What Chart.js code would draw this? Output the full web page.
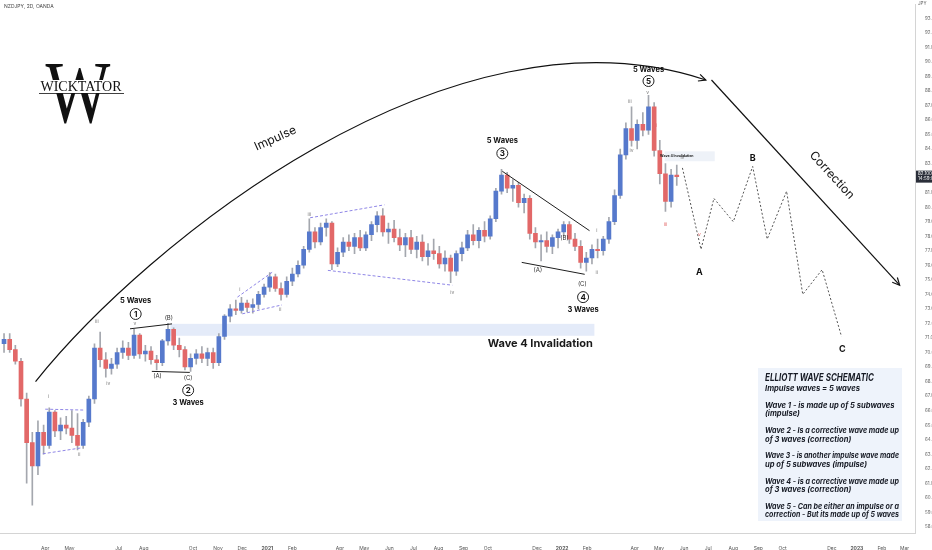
<!DOCTYPE html>
<html>
<head>
<meta charset="utf-8">
<script src="https://cdn.jsdelivr.net/npm/chart.js@4/dist/chart.umd.min.js"></script>
<style>
  html, body { margin: 0; padding: 0; background: #fff; }
</style>
</head>
<body>
<canvas id="chart" width="932" height="550"></canvas>
<script>
// NZDJPY weekly candles
const firstWeek = '2020-02-10';
const opens = [70.6,70.9,70.2,69.4,66.8,63.8,62.2,64.5,63.6,65.9,
  64.6,65.0,64.8,64.3,63.6,65.2,66.8,70.3,69.5,68.9,
  69.2,70.0,70.3,69.8,71.2,69.9,70.1,69.5,69.3,70.8,
  71.6,70.5,70.2,69.0,69.6,69.9,69.6,70.0,69.3,71.1,
  72.5,73.0,72.9,73.4,73.1,73.3,74.0,74.5,75.2,74.4,
  74.0,74.9,75.4,76.0,77.1,78.3,77.6,78.6,78.9,76.1,
  76.9,77.6,77.3,77.9,77.2,78.1,78.8,79.4,78.3,78.5,
  77.9,77.4,77.9,77.1,77.6,76.6,77.0,76.8,76.1,76.5,
  75.6,76.8,77.2,78.1,77.7,78.4,78.0,79.2,81.1,82.2,
  81.3,81.5,80.3,80.6,78.2,77.6,77.7,77.3,77.9,78.3,
  78.8,77.8,77.3,76.2,76.5,77.1,77.0,77.8,79.0,80.8,
  83.6,85.4,84.6,85.7,85.3,86.9,83.9,82.3,80.4,82.2];
const highs = [71.3,71.3,70.5,69.6,67.2,64.5,65.3,65.0,66.2,66.0,
  65.5,65.6,66.0,65.8,65.4,67.0,70.6,71.4,70.0,69.6,
  70.3,70.8,70.7,71.6,71.3,70.5,70.4,69.8,70.9,72.0,
  71.7,71.0,70.4,69.9,70.2,70.4,70.3,70.3,71.3,72.6,
  73.3,73.6,73.8,73.6,73.7,74.2,74.7,75.5,75.4,74.8,
  75.2,75.8,76.3,77.3,79.2,78.6,78.9,79.2,79.0,77.2,
  77.9,78.1,78.2,78.4,78.3,79.0,79.7,79.9,78.9,79.1,
  78.5,78.2,78.4,78.0,78.1,77.5,77.8,77.3,77.0,76.7,
  77.0,77.6,78.4,78.8,78.6,79.0,79.4,81.3,82.6,82.4,
  81.9,81.7,80.9,80.8,78.6,78.1,78.3,78.1,78.5,79.0,
  79.0,78.2,77.7,76.9,77.4,77.8,78.0,79.3,81.2,84.0,
  85.8,86.9,86.0,86.5,87.7,87.2,84.6,83.0,82.6,82.9];
const lows = [70.0,70.0,69.2,66.3,61.0,59.5,61.6,63.0,63.4,64.2,
  64.0,64.4,63.8,63.3,63.4,64.9,66.5,69.0,68.3,68.5,
  68.9,69.6,69.5,69.6,69.6,69.4,69.2,68.8,69.1,70.5,
  70.2,69.7,68.8,68.7,69.2,69.3,69.1,68.9,69.1,70.9,
  72.1,72.6,72.7,72.8,72.7,73.0,73.8,74.2,74.2,73.6,
  73.8,74.6,75.2,75.8,76.9,77.2,77.4,78.0,75.7,75.9,
  76.6,77.0,76.8,77.0,77.0,77.7,78.3,78.0,77.5,77.6,
  77.0,76.6,76.8,76.5,76.3,76.0,76.4,75.8,75.6,74.8,
  75.3,76.3,77.0,77.4,77.2,77.6,77.8,79.0,80.9,81.0,
  80.4,80.0,79.6,77.8,77.2,76.3,76.9,76.8,77.2,78.0,
  77.5,77.0,75.8,75.6,76.1,76.5,76.7,77.5,78.8,80.6,
  83.3,84.2,84.0,84.9,85.0,83.5,81.6,79.7,80.0,81.5];
const closes = [70.9,70.2,69.4,66.8,63.8,62.2,64.5,63.6,65.9,64.6,
  65.0,64.8,64.3,63.6,65.2,66.8,70.3,69.5,68.9,69.2,
  70.0,70.3,69.8,71.2,69.9,70.1,69.5,69.3,70.8,71.6,
  70.5,70.2,69.0,69.6,69.9,69.6,70.0,69.3,71.1,72.5,
  73.0,72.9,73.4,73.1,73.3,74.0,74.5,75.2,74.4,74.0,
  74.9,75.4,76.0,77.1,78.3,77.6,78.6,78.9,76.1,76.9,
  77.6,77.3,77.9,77.2,78.1,78.8,79.4,78.3,78.5,77.9,
  77.4,77.9,77.1,77.6,76.6,77.0,76.8,76.1,76.5,75.6,
  76.8,77.2,78.1,77.7,78.4,78.0,79.2,81.1,82.2,81.3,
  81.5,80.3,80.6,78.2,77.6,77.7,77.3,77.9,78.3,78.8,
  77.8,77.3,76.2,76.5,77.1,77.0,77.8,79.0,80.8,83.6,
  85.4,84.6,85.7,85.3,86.9,83.9,82.3,80.4,82.2,82.1];

// projected A-B-C correction path
const projDates = ['2022-05-30','2022-06-22','2022-07-08','2022-08-01','2022-08-25','2022-09-12','2022-10-06','2022-10-26','2022-11-19','2022-12-13'];
const projPrices = [82.7, 77.1, 80.6, 79.0, 82.8, 77.8, 81.1, 74.0, 75.7, 71.1];

// time axis labels
const tickDates = ['2020-04-01','2020-05-01','2020-07-01','2020-08-01','2020-10-01','2020-11-01','2020-12-01','2021-01-01','2021-02-01','2021-04-01','2021-05-01','2021-06-01','2021-07-01','2021-08-01','2021-09-01','2021-10-01','2021-12-01','2022-01-01','2022-02-01','2022-04-01','2022-05-01','2022-06-01','2022-07-01','2022-08-01','2022-09-01','2022-10-01','2022-12-01','2023-01-01','2023-02-01','2023-03-01'];
const tickLabels = ['Apr','May','Jul','Aug','Oct','Nov','Dec','2021','Feb','Apr','May','Jun','Jul','Aug','Sep','Oct','Dec','2022','Feb','Apr','May','Jun','Jul','Aug','Sep','Oct','Dec','2023','Feb','Mar'];

const DAY = 864e5;
const t = s => Date.parse(s + 'T00:00:00Z');
const weekDates = opens.map((_, i) => t(firstWeek) + i * 7 * DAY);

const UP = '#5679cc', DOWN = '#e26868', WICK = '#a4a7ae';

// annotation layout (date, price)
const waveCircles = [
  { n: '1', d: '2020-07-22', p: 72.65, cap: '5 Waves', dy: -13 },
  { n: '2', d: '2020-09-25', p: 67.4, cap: '3 Waves', dy: 12 },
  { n: '3', d: '2021-10-19', p: 83.7, cap: '5 Waves', dy: -13 },
  { n: '4', d: '2022-01-27', p: 73.81, cap: '3 Waves', dy: 13 },
  { n: '5', d: '2022-04-18', p: 88.68, cap: '5 Waves', dy: -11 }
];
const romans = [
  ['i','2020-04-05',67.0], ['ii','2020-05-13',62.97], ['iii','2020-06-04',72.11], ['iv','2020-06-18',67.88], ['v','2020-07-21',71.97],
  ['i','2020-11-28',74.36], ['ii','2021-01-17',72.93], ['iii','2021-02-22',79.47], ['iv','2021-08-18',74.15],
  ['i','2022-02-13',78.38], ['ii','2022-02-13',75.52], ['iii','2022-03-26',87.25], ['iv','2022-03-28',83.91], ['v','2022-04-17',87.86],
  ['iv','2022-05-30',83.4]
];
const redRomans = [['i','2022-04-28',85.61], ['iii','2022-05-09',78.79], ['v','2022-06-20',78.11]];
const abcSmall = [
  ['(A)','2020-08-18',68.35], ['(B)','2020-09-01',72.38], ['(C)','2020-09-25',68.22],
  ['(A)','2021-12-02',75.65], ['(B)','2022-01-04',77.84], ['(C)','2022-01-26',74.7]
];
const abcBig = [['A','2022-06-20',75.52], ['B','2022-08-25',83.36], ['C','2022-12-14',70.2]];
const trendLines = [
  ['2020-07-15',71.63,'2020-09-05',71.97], ['2020-08-11',68.7,'2020-09-27',68.63],
  ['2021-10-19',82.47,'2022-02-04',78.38], ['2021-11-12',76.2,'2022-01-29',75.38]
];
const wedgeLines = [
  ['2020-04-01',66.1,'2020-05-18',66.04], ['2020-03-29',63.03,'2020-05-16',63.44],
  ['2020-11-25',73.81,'2021-01-07',75.52], ['2020-12-01',72.66,'2021-01-19',73.27],
  ['2021-02-23',79.27,'2021-05-26',80.16], ['2021-03-17',75.65,'2021-08-18',74.63]
];
const impulseArc = [['2020-03-20',68.0], ['2020-08-02',77.36], ['2021-08-15',94.62], ['2022-06-28',88.75]];
const correctionArrow = [['2022-07-05',88.75], ['2023-02-23',74.63]];
const schematic = ['Impulse waves = 5 waves', '',
  'Wave 1 - is made up of 5 subwaves', '(impulse)', '',
  'Wave 2 - Is a corrective wave made up', 'of 3 waves (correction)', '',
  'Wave 3 - is another impulse wave made', 'up of 5 subwaves (impulse)', '',
  'Wave 4 - is a corrective wave made up', 'of 3 waves (correction)', '',
  'Wave 5 - Can be either an impulse or a', 'correction - But its made up of 5 waves'];

function arrowHead(ctx, x1, y1, x2, y2) {
  const a = Math.atan2(y2 - y1, x2 - x1), L = 8;
  ctx.beginPath();
  ctx.moveTo(x2 - L * Math.cos(a - 0.45), y2 - L * Math.sin(a - 0.45));
  ctx.lineTo(x2, y2);
  ctx.lineTo(x2 - L * Math.cos(a + 0.45), y2 - L * Math.sin(a + 0.45));
  ctx.stroke();
}

const notes = {
  id: 'notes',
  beforeDatasetsDraw(chart) {
    const { ctx, scales: { x, y } } = chart;
    const X = d => x.getPixelForValue(t(d)), Y = p => y.getPixelForValue(p);
    ctx.save();
    ctx.fillStyle = '#e4ebf9';
    ctx.fillRect(X('2020-09-03'), Y(71.97), X('2022-02-10') - X('2020-09-03'), Y(71.15) - Y(71.97));
    ctx.fillStyle = '#eef2f8';
    ctx.fillRect(X('2022-05-08'), Y(83.84), X('2022-07-09') - X('2022-05-08'), Y(83.16) - Y(83.84));
    ctx.restore();
  },
  afterDatasetsDraw(chart) {
    const { ctx, scales: { x, y } } = chart;
    const X = d => x.getPixelForValue(t(d)), Y = p => y.getPixelForValue(p);
    ctx.save();
    ctx.textAlign = 'center';
    ctx.textBaseline = 'middle';

    // trend lines
    ctx.strokeStyle = '#1e1e1e';
    ctx.lineWidth = 1;
    trendLines.forEach(([d1, p1, d2, p2]) => {
      ctx.beginPath(); ctx.moveTo(X(d1), Y(p1)); ctx.lineTo(X(d2), Y(p2)); ctx.stroke();
    });
    // dashed wedges
    ctx.strokeStyle = '#8f86e6';
    ctx.setLineDash([3, 2]);
    wedgeLines.forEach(([d1, p1, d2, p2]) => {
      ctx.beginPath(); ctx.moveTo(X(d1), Y(p1)); ctx.lineTo(X(d2), Y(p2)); ctx.stroke();
    });
    ctx.setLineDash([]);

    // impulse arc
    const pts = impulseArc.map(([d, p]) => [X(d), Y(p)]);
    ctx.strokeStyle = '#111';
    ctx.lineWidth = 1.2;
    ctx.beginPath();
    ctx.moveTo(pts[0][0], pts[0][1]);
    ctx.bezierCurveTo(pts[1][0], pts[1][1], pts[2][0], pts[2][1], pts[3][0], pts[3][1]);
    ctx.stroke();
    arrowHead(ctx, pts[2][0], pts[2][1], pts[3][0], pts[3][1]);
    ctx.save();
    ctx.translate(X('2021-01-11'), Y(84.73));
    ctx.rotate(-0.42);
    ctx.fillStyle = '#111';
    ctx.font = '12px Inter, sans-serif';
    ctx.fillText('Impulse', 0, 0);
    ctx.restore();

    // correction arrow
    const c1 = correctionArrow.map(([d, p]) => [X(d), Y(p)]);
    ctx.beginPath(); ctx.moveTo(c1[0][0], c1[0][1]); ctx.lineTo(c1[1][0], c1[1][1]); ctx.stroke();
    arrowHead(ctx, c1[0][0], c1[0][1], c1[1][0], c1[1][1]);
    ctx.save();
    ctx.translate(X('2022-12-01'), Y(82.2));
    ctx.rotate(Math.atan2(c1[1][1] - c1[0][1], c1[1][0] - c1[0][0]));
    ctx.fillStyle = '#111';
    ctx.font = '12px Inter, sans-serif';
    ctx.fillText('Correction', 0, 0);
    ctx.restore();

    // roman numerals
    ctx.font = '5px Inter, sans-serif';
    ctx.fillStyle = '#7a7a7a';
    romans.forEach(([s, d, p]) => ctx.fillText(s, X(d), Y(p)));
    ctx.fillStyle = '#e26868';
    redRomans.forEach(([s, d, p]) => ctx.fillText(s, X(d), Y(p)));
    ctx.fillStyle = '#333';
    ctx.font = '6px Inter, sans-serif';
    abcSmall.forEach(([s, d, p]) => ctx.fillText(s, X(d), Y(p)));
    ctx.font = 'bold 9px Inter, sans-serif';
    ctx.fillStyle = '#111';
    abcBig.forEach(([s, d, p]) => ctx.fillText(s, X(d), Y(p)));

    // wave circles
    waveCircles.forEach(w => {
      const cx = X(w.d), cy = Y(w.p);
      ctx.beginPath();
      ctx.arc(cx, cy, 5.5, 0, Math.PI * 2);
      ctx.fillStyle = '#fff'; ctx.fill();
      ctx.strokeStyle = '#222'; ctx.lineWidth = 1; ctx.stroke();
      ctx.fillStyle = '#111';
      ctx.font = 'bold 8px Inter, sans-serif';
      ctx.fillText(w.n, cx, cy + 0.5);
      ctx.font = 'bold 7.5px Inter, sans-serif';
      ctx.fillText(w.cap, cx, cy + w.dy);
    });

    // invalidation labels
    ctx.font = 'bold 11px Inter, sans-serif';
    ctx.fillStyle = '#1a1a1a';
    ctx.fillText('Wave 4 Invalidation', X('2021-12-05'), Y(70.6));
    ctx.font = 'bold 3.5px Inter, sans-serif';
    ctx.fillText('Wave 4 Invalidation', X('2022-05-23'), Y(83.5));

    // schematic box
    ctx.fillStyle = '#eef3fb';
    ctx.fillRect(758, 368, 144, 153);
    ctx.textAlign = 'left';
    ctx.fillStyle = '#161a24';
    ctx.font = 'italic bold 10.5px Inter, sans-serif';
    ctx.fillText('ELLIOTT WAVE SCHEMATIC', 765, 378, 109);
    ctx.font = 'italic bold 7.6px Inter, sans-serif';
    schematic.forEach((s, i) => { if (s) ctx.fillText(s, 765, 389 + i * 8.4, 134); });

    // header
    ctx.font = '5px Inter, sans-serif';
    ctx.fillStyle = '#444';
    ctx.fillText('NZDJPY, 2D, OANDA', 4, 6);

    // logo
    ctx.save();
    ctx.translate(78, 122);
    ctx.scale(0.78, 1);
    ctx.textAlign = 'center';
    ctx.textBaseline = 'alphabetic';
    ctx.fillStyle = '#111';
    ctx.font = '88px "Liberation Serif", serif';
    ctx.fillText('W', 0, 0);
    ctx.restore();
    ctx.fillStyle = '#fff';
    ctx.fillRect(38, 80, 88, 13);
    ctx.fillStyle = '#111';
    ctx.textAlign = 'center';
    ctx.font = '14px "Liberation Serif", serif';
    ctx.fillText('WICKTATOR', 81, 87, 84);
    ctx.fillRect(39, 93, 85, 0.8);
    ctx.restore();
  },
  afterDraw(chart) {
    const { ctx, scales: { y } } = chart;
    const last = closes[closes.length - 1];
    const py = y.getPixelForValue(last);
    ctx.save();
    ctx.fillStyle = '#2a2e39';
    ctx.fillRect(916, py - 6, 16, 12);
    ctx.fillStyle = '#fff';
    ctx.font = '4.5px Inter, sans-serif';
    ctx.textAlign = 'left';
    ctx.textBaseline = 'middle';
    ctx.fillText(last.toFixed(3), 918, py - 2.5);
    ctx.fillText('14:59:01', 918, py + 2.5);
    ctx.fillStyle = '#666';
    ctx.fillText('JPY', 918, 4);
    ctx.restore();
  }
};

new Chart(document.getElementById('chart').getContext('2d'), {
  type: 'bar',
  data: {
    datasets: [
      {
        label: 'wick',
        data: weekDates.map((x, i) => ({ x, y: [lows[i], highs[i]] })),
        backgroundColor: WICK,
        barThickness: 1,
        grouped: false,
        order: 2
      },
      {
        label: 'body',
        data: weekDates.map((x, i) => ({ x, y: [opens[i], closes[i]] })),
        backgroundColor: closes.map((c, i) => c >= opens[i] ? UP : DOWN),
        barThickness: 4,
        minBarLength: 1,
        grouped: false,
        order: 1
      },
      {
        type: 'line',
        label: 'projection',
        data: projDates.map((d, i) => ({ x: t(d), y: projPrices[i] })),
        borderColor: '#555',
        borderWidth: 1,
        borderDash: [2, 2],
        pointRadius: 0,
        order: 0
      }
    ]
  },
  options: {
    responsive: false,
    animation: false,
    layout: { padding: 0 },
    plugins: { legend: { display: false }, tooltip: { enabled: false } },
    scales: {
      x: {
        type: 'linear',
        min: t('2020-02-05'),
        max: t('2023-03-14'),
        offset: false,
        grid: { display: false },
        border: { color: '#d4d4d4' },
        afterBuildTicks: s => { s.ticks = tickDates.map(d => ({ value: t(d) })); },
        afterFit: s => { s.height = 17; },
        ticks: {
          autoSkip: false,
          maxRotation: 0,
          padding: 4,
          color: '#555',
          font: c => ({ size: 5, family: 'Inter', weight: c.tick && /^\d{4}$/.test(c.tick.label) ? 'bold' : 'normal' }),
          callback: (v, i) => tickLabels[i]
        }
      },
      y: {
        position: 'right',
        min: 57.58,
        max: 93.93,
        grid: { display: false },
        border: { color: '#d4d4d4' },
        afterBuildTicks: s => { s.ticks = s.ticks.filter(k => Math.abs(k.value - Math.round(k.value)) < 1e-6); },
        afterFit: s => { s.width = 17; },
        ticks: {
          stepSize: 1,
          padding: 2,
          color: '#666',
          font: { size: 4.5, family: 'Inter' },
          callback: v => v.toFixed(3)
        }
      }
    }
  },
  plugins: [notes]
});
</script>
</body>
</html>
